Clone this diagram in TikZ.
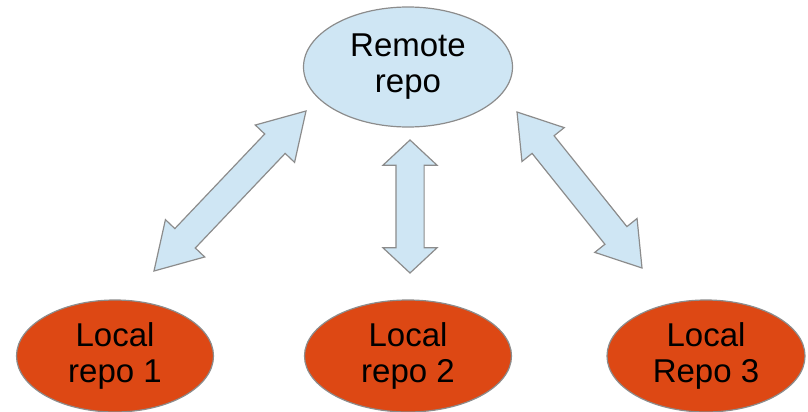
\documentclass[tikz,border=0pt]{standalone}
\usepackage{fontspec}
\setmainfont{Liberation Sans}
\usetikzlibrary{shapes.geometric,shapes.arrows,calc}

\definecolor{paleblue}{HTML}{CFE6F4}
\definecolor{repoorange}{HTML}{DD4814}
\definecolor{rimgray}{HTML}{8C8C8C}

\begin{document}
\begin{tikzpicture}[x=1pt,y=-1pt]
    \useasboundingbox (0,0) rectangle (808,412);
    \begin{scope}[every node/.style={ellipse,draw=rimgray,line width=1.2pt,align=center,
                  inner sep=0pt,font=\fontsize{33}{36}\selectfont}]
        \node[fill=paleblue,minimum width=209,minimum height=120] (remote) at (408,67) {Remote\\repo};
        \node[fill=repoorange,minimum width=197,minimum height=112] (local1) at (115,356) {Local\\repo 1};
        \node[fill=repoorange,minimum width=207,minimum height=112] (local2) at (408,356) {Local\\repo 2};
        \node[fill=repoorange,minimum width=198,minimum height=112] (local3) at (706,356) {Local\\Repo 3};
    \end{scope}

    \coordinate (r1) at (306,111);
    \coordinate (l1) at (154,271);
    \coordinate (r2) at (410,140);
    \coordinate (l2) at (410,273);
    \coordinate (r3) at (517,112);
    \coordinate (l3) at (642,268);

    \begin{scope}[every node/.style={double arrow,fill=paleblue,draw=rimgray,line width=1.2pt,
                  inner xsep=0pt,inner ysep=13.5pt,double arrow head extend=13}]
        \path let \p1=($(r1)-(l1)$), \n1={veclen(\x1,\y1)} in
            (l1) -- (r1) node[midway,sloped,double arrow tip angle=62,minimum height=\n1] {};
        \path let \p1=($(r2)-(l2)$), \n1={veclen(\x1,\y1)} in
            (l2) -- (r2) node[midway,sloped,double arrow tip angle=94,minimum height=\n1] {};
        \path let \p1=($(r3)-(l3)$), \n1={veclen(\x1,\y1)} in
            (l3) -- (r3) node[midway,sloped,double arrow tip angle=66,minimum height=\n1] {};
    \end{scope}
\end{tikzpicture}
\end{document}
